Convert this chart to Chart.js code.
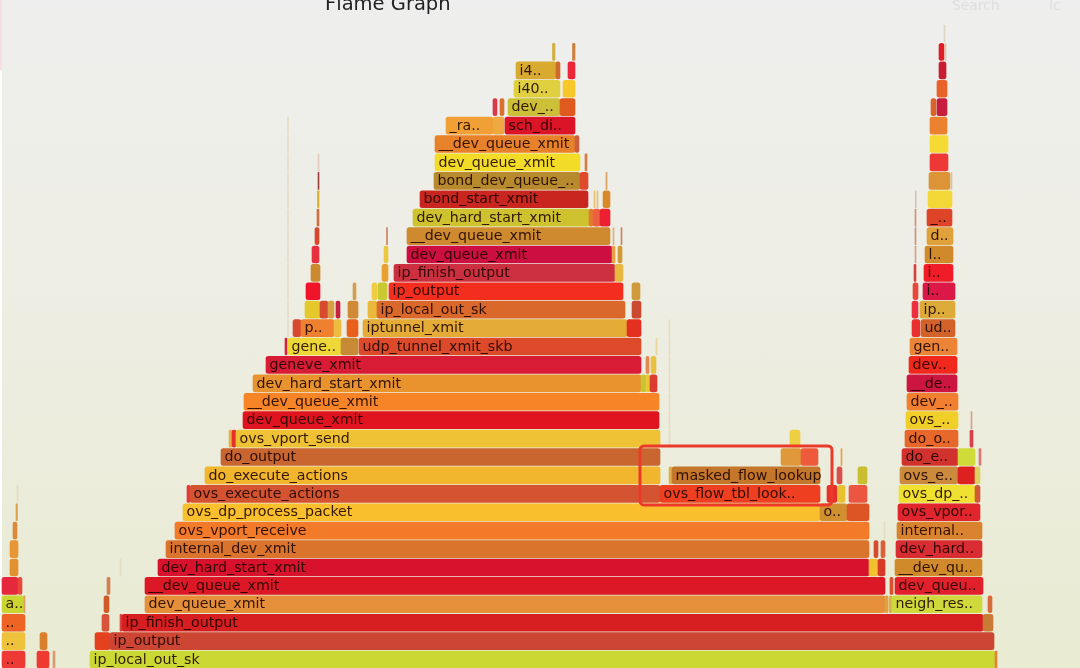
<!DOCTYPE html>
<html>
<head>
<meta charset="utf-8">
<title>Flame Graph</title>
<script src="https://cdn.jsdelivr.net/npm/chart.js@4"></script>
<style>
html, body { margin: 0; padding: 0; width: 1080px; height: 668px; overflow: hidden; }
body { background: linear-gradient(to bottom, #eeeeee 0%, #eeeee6 35%, #e9ebd2 100%); }
#wrap { position: absolute; left: 0; top: 0; width: 1080px; height: 668px; }
#edge { position: absolute; left: 0; top: 70px; width: 2px; height: 598px; background: #fff; }
#corner { position: absolute; left: 0; top: 0; width: 2px; height: 70px; background: #f6dfe2; }
canvas { filter: blur(0.35px); }
</style>
</head>
<body>
<div id="edge"></div>
<div id="corner"></div>
<div id="wrap"><canvas id="flame" width="1080" height="668"></canvas></div>
<script>
// frames per stack depth: [name, start sample, end sample]
const row00 = [["..", 2, 25], ["", 37, 49], ["", 53, 55], ["ip_local_out_sk", 90, 995], ["", 995, 997]];
const row01 = [["..", 2, 25], ["", 40, 47], ["", 95, 110], ["ip_output", 110, 994]];
const row02 = [["..", 2, 25], ["", 102, 109], ["", 120, 122], ["ip_finish_output", 122, 983], ["", 983, 993]];
const row03 = [["a..", 2, 24], ["", 24, 25], ["", 104, 109], ["dev_queue_xmit", 145, 885], ["", 885, 888], ["", 889, 892], ["neigh_res..", 892, 982], ["", 988, 992]];
const row04 = [["", 2, 18], ["", 18, 22], ["", 107, 110], ["__dev_queue_xmit", 145, 885], ["", 890, 893], ["dev_queu..", 895, 983]];
const row05 = [["", 10, 18], ["", 120, 121], ["dev_hard_start_xmit", 158, 869], ["", 869, 878], ["", 878, 885], ["__dev_qu..", 895, 982]];
const row06 = [["", 10, 18], ["internal_dev_xmit", 166, 869], ["", 874, 878], ["", 881, 885], ["dev_hard..", 896, 982]];
const row07 = [["", 13, 17], ["ovs_vport_receive", 175, 869], ["", 884, 885], ["internal..", 897, 982]];
const row08 = [["", 16, 17.5], ["ovs_dp_process_packet", 183, 820], ["o..", 820, 847], ["", 847, 869], ["ovs_vpor..", 898, 980]];
const row09 = [["", 17, 18], ["", 187, 190], ["ovs_execute_actions", 190, 660], ["ovs_flow_tbl_look..", 660, 820], ["", 827, 837], ["", 838, 845], ["", 849, 867], ["ovs_dp_..", 899, 975], ["", 975, 980]];
const row10 = [["do_execute_actions", 205, 660], ["", 669, 672], ["masked_flow_lookup", 672, 820], ["", 837, 842], ["", 858, 867], ["ovs_e..", 900, 958], ["", 958, 975], ["", 975, 980]];
const row11 = [["do_output", 221, 660], ["", 781, 801], ["", 801, 818], ["", 841, 842], ["do_e..", 902, 958], ["", 958, 975], ["", 979, 981]];
const row12 = [["", 229, 232], ["", 232, 236], ["ovs_vport_send", 236, 660], ["", 669, 670], ["", 790, 800], ["do_o..", 905, 958], ["", 970, 973]];
const row13 = [["dev_queue_xmit", 243, 659], ["", 669, 670], ["ovs_..", 906, 958], ["", 971, 972]];
const row14 = [["__dev_queue_xmit", 244, 659], ["", 669, 670], ["dev_..", 907, 958]];
const row15 = [["dev_hard_start_xmit", 253, 641], ["", 641, 646], ["", 646, 650], ["", 650, 657], ["", 669, 670], ["__de..", 907, 957]];
const row16 = [["geneve_xmit", 266, 641], ["", 646, 649], ["", 651, 656], ["", 669, 670], ["dev..", 909, 957]];
const row17 = [["", 285, 287], ["gene..", 288, 341], ["", 341, 358], ["udp_tunnel_xmit_skb", 359, 641], ["", 656, 657], ["", 669, 670], ["gen..", 910, 957]];
const row18 = [["", 287.5, 288.5], ["", 293, 301], ["p..", 301, 334], ["", 334, 341], ["", 347, 358], ["iptunnel_xmit", 363, 627], ["", 627, 641], ["", 669, 670], ["", 912, 920], ["ud..", 921, 955]];
const row19 = [["", 287.5, 288.5], ["", 305, 320], ["", 320, 328], ["", 328, 334], ["", 336, 340], ["", 348, 358], ["", 368, 377], ["ip_local_out_sk", 377, 625], ["", 632, 641], ["", 912, 918], ["ip..", 920, 955]];
const row20 = [["", 287.5, 288.5], ["", 306, 320], ["", 353, 356], ["", 372, 377], ["", 378, 387], ["ip_output", 389, 623], ["", 632, 640], ["", 913, 918], ["i..", 923, 955]];
const row21 = [["", 287.5, 288.5], ["", 311, 320], ["", 382, 388], ["ip_finish_output", 394, 615], ["", 615, 623], ["", 914, 916], ["i..", 924, 953]];
const row22 = [["", 287.5, 288.5], ["", 312, 319], ["", 384, 388], ["dev_queue_xmit", 407, 612], ["", 612, 615], ["", 618, 622], ["", 915, 916], ["l..", 925, 953]];
const row23 = [["", 287.5, 288.5], ["", 315, 319], ["", 386.5, 387.5], ["__dev_queue_xmit", 407, 610], ["", 613, 614], ["", 621, 622], ["", 915, 916], ["d..", 927, 953]];
const row24 = [["", 287.5, 288.5], ["", 317, 319], ["dev_hard_start_xmit", 413, 589], ["", 589, 593], ["", 593, 600], ["", 600, 610], ["", 915, 916], ["_..", 927, 952]];
const row25 = [["", 287.5, 288.5], ["", 317.5, 319], ["bond_start_xmit", 420, 588], ["", 594, 595], ["", 597, 598], ["", 603, 610], ["", 915.5, 916], ["", 928, 952]];
const row26 = [["", 287.5, 288.5], ["", 318, 319], ["bond_dev_queue_..", 434, 580], ["", 580, 588], ["", 606, 607], ["", 929, 950], ["", 951, 952]];
const row27 = [["", 287.5, 288.5], ["", 318, 319], ["dev_queue_xmit", 435, 580], ["", 585, 587], ["", 930, 948]];
const row28 = [["", 287.5, 288.5], ["__dev_queue_xmit", 435, 575], ["", 575, 579], ["", 930, 948]];
const row29 = [["", 287.5, 288.5], ["_ra..", 446, 493], ["", 493, 504], ["sch_di..", 505, 575], ["", 930, 947]];
const row30 = [["", 493, 497], ["", 500, 504], ["dev_..", 508, 560], ["", 560, 575], ["", 931, 936], ["", 937, 947]];
const row31 = [["i40..", 514, 560], ["", 563, 575], ["", 937, 947]];
const row32 = [["i4..", 516, 556], ["", 556, 560], ["", 568, 575], ["", 939, 946]];
const row33 = [["", 552.5, 555], ["", 572.5, 575], ["", 939, 944], ["", 945, 946]];
const row34 = [["", 944, 945]];

const stackRows = [row00, row01, row02, row03, row04, row05, row06, row07, row08, row09, row10, row11, row12, row13, row14, row15, row16, row17, row18, row19, row20, row21, row22, row23, row24, row25, row26, row27, row28, row29, row30, row31, row32, row33, row34];

// colours, same order as the rows above
const faint = '#e6dcc4';
const rowColors = [
  ['#ee3a35', '#ee3a30', '#d99a70', '#cbd834', '#e8803a'],
  ['#eec23a', '#d97f2e', '#e4421f', '#cc4633'],
  ['#ee6424', '#d9533a', '#d9453a', '#d71e20', '#c97a35'],
  ['#cad52f', '#d9a060', '#cf5a2a', '#e68f3a', '#e0a040', '#dcb050', '#cfd93c', '#d96a3a'],
  ['#e6283c', '#e8483a', '#d08050', '#dc1827', '#d95030', '#e2202c'],
  ['#e39030', faint, '#d8122c', '#f2c030', '#d83a28', '#d08a2c'],
  ['#e89535', '#da732c', '#d64a30', '#d9603a', '#d92c33'],
  ['#d98a3a', '#f37a28', faint, '#d9832f'],
  ['#dda050', '#f9bf2c', '#d09030', '#de5525', '#e0252c'],
  [faint, '#e8353a', '#d45432', '#ee4020', '#e6302a', '#e8c030', '#ec5540', '#f0e030', '#d05a35'],
  ['#f2b52e', '#e0b050', '#c4762a', '#d9504a', '#c9bd30', '#cc8a3c', '#dd2020', '#dcd060'],
  ['#c9652f', '#e0993a', '#ee5a3c', '#e8a040', '#d2322e', '#cfdb38', '#d87a70'],
  ['#e8b040', '#e8302a', '#eec234', faint, '#ecd040', '#e8682c', '#d8404a'],
  ['#e0141f', faint, '#f0d028', '#d8a090'],
  ['#f88428', faint, '#f08030'],
  ['#e8932e', '#c8c434', '#e8c834', '#dc3b30', faint, '#cc1540'],
  ['#d91c36', '#e08a50', '#e8c040', faint, '#f0281e'],
  ['#d82040', '#eed838', '#c88a35', '#dc4a2a', '#e8d8a0', faint, '#ec8438'],
  [faint, '#d84a30', '#ee8030', '#eebc40', '#e8601c', '#e4ac36', '#e43020', faint, '#e83030', '#d0622a'],
  [faint, '#e4c82c', '#d84a30', '#d8a040', '#c82040', '#d08a35', '#eab83a', '#d9682a', '#c94a30', '#ec3040', '#dcab3a'],
  [faint, '#f0142a', '#d0a050', '#f0cc40', '#c8c830', '#f42e1e', '#cf9a3a', '#e8483a', '#dc1848'],
  [faint, '#cc8a30', '#e8a030', '#cc3040', '#e6b840', '#d84040', '#f01c28'],
  [faint, '#e63040', '#ecc840', '#cc0e40', '#e8a040', '#d09a30', '#d8a090', '#d08a2c'],
  [faint, '#d9482c', '#cf8060', '#cf8a30', '#e0b080', '#d08060', '#d09080', '#e0a03a'],
  [faint, '#d07040', '#cec22f', '#e07c2c', '#ec6040', '#ec2030', '#d09080', '#dd4428'],
  [faint, '#d8b030', '#c92620', '#e8c070', '#e8c070', '#d88a2a', '#d8b0a0', '#f4d838'],
  [faint, '#a04040', '#b88a2e', '#e04a2c', '#d8a060', '#dd9436', '#dcc0a0'],
  [faint, '#e4c8b8', '#f2dc28', '#d87a40', '#ee3836'],
  [faint, '#e8822a', '#c86040', '#f6da34'],
  [faint, '#f0a035', '#f0a840', '#dc1428', '#ec8230'],
  ['#d83a4a', '#dc7030', '#cbc038', '#e05a20', '#d8642a', '#c81c3e'],
  ['#e0d040', '#f8c828', '#e8622a'],
  ['#d8aa30', '#d06a2c', '#ec2838', '#c81c30'],
  ['#d0b040', '#cc8040', '#e01c28', '#e0c8a0'],
  ['#dcd8c0']
];

const frames = [];
const frameColors = [];
stackRows.forEach(function (row, depth) {
  row.forEach(function (f, i) {
    frames.push({ x: [f[1], f[2]], y: depth, name: f[0] });
    frameColors.push(rowColors[depth][i]);
  });
});

// names on the bars, the title line and the red mark around the lookup frames
const framePlugin = {
  id: 'frameLabels',
  afterDatasetsDraw: function (chart) {
    const ctx = chart.ctx;
    const xs = chart.scales.x;
    const ys = chart.scales.y;
    ctx.save();
    ctx.font = '14.2px "DejaVu Sans"';
    ctx.textBaseline = 'middle';
    ctx.fillStyle = 'rgba(30,5,0,0.9)';
    frames.forEach(function (f) {
      if (f.name) {
        ctx.fillText(f.name, xs.getPixelForValue(f.x[0]) + 3.6, ys.getPixelForValue(f.y) + 0.5);
      }
    });

    ctx.font = '19.5px "DejaVu Sans"';
    ctx.textBaseline = 'alphabetic';
    ctx.fillStyle = '#222';
    ctx.fillText('Flame Graph', 325, 9.5);
    ctx.font = '13.8px "DejaVu Sans"';
    ctx.fillStyle = '#dfdfdf';
    ctx.fillText('Search', 952, 10);
    ctx.fillText('Ic', 1049, 10);

    ctx.strokeStyle = '#ec3a2a';
    ctx.lineWidth = 3;
    ctx.beginPath();
    ctx.roundRect(xs.getPixelForValue(640), ys.getPixelForValue(11.6), 192, 59, 4);
    ctx.stroke();
    ctx.restore();
  }
};

new Chart(document.getElementById('flame'), {
  type: 'bar',
  data: {
    datasets: [{
      label: 'Flame Graph',
      data: frames,
      backgroundColor: frameColors,
      borderWidth: 0,
      borderSkipped: false,
      borderRadius: 2.5,
      barThickness: 17,
      grouped: false
    }]
  },
  options: {
    indexAxis: 'y',
    responsive: false,
    devicePixelRatio: 1,
    animation: false,
    layout: { padding: 0 },
    plugins: { legend: { display: false }, tooltip: { enabled: false }, title: { display: false } },
    scales: {
      x: { type: 'linear', min: 0, max: 1080, display: false },
      y: { type: 'linear', min: -0.46, max: 35.82, offset: false, display: false }
    }
  },
  plugins: [framePlugin]
});
</script>
</body>
</html>
